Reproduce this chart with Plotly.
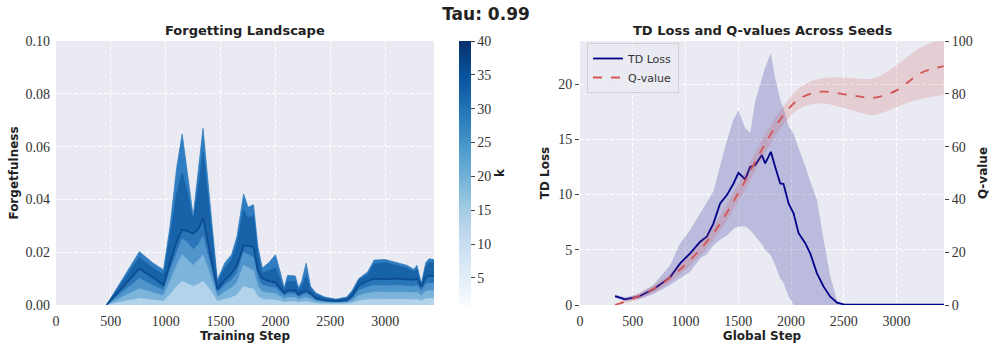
import plotly.graph_objects as go

# ---- forgetting landscape (left panel): one profile per k level
steps = [460, 600, 760, 880, 980, 1040, 1100, 1150, 1200, 1250, 1300, 1340, 1400, 1470, 1540,
         1600, 1650, 1710, 1750, 1800, 1840, 1880, 1940, 2000, 2040, 2080, 2110, 2180, 2210, 2240,
         2280, 2320, 2370, 2450, 2550, 2650, 2700, 2760, 2840, 2900, 3000, 3100, 3200, 3260, 3290,
         3330, 3370, 3400, 3445]
forget_k40 = [0, .0095, .0202, .0160, .0133, .030, .052, .0647, .050, .0335, .052, .0669, .040, .0095, .016,
              .019, .026, .042, .037, .038, .022, .014, .016, .019, .013, .0065, .0112, .0110, .0065, .009,
              .0158, .007, .0045, .003, .0022, .003, .0055, .010, .0125, .0170, .0172, .0162, .0150, .0135, .0150,
              .0080, .0160, .0175, .0172]
forget_k33 = [0, .0085, .0180, .0140, .0115, .026, .042, .050, .042, .032, .045, .058, .035, .008, .014,
              .017, .023, .036, .033, .034, .019, .012, .013, .014, .010, .0055, .0090, .0088, .0055, .007,
              .011, .006, .0038, .0026, .0020, .0026, .0048, .0095, .0115, .0155, .0160, .0150, .0140, .0125, .0135,
              .0075, .0145, .0160, .0160]
forget_k26 = [0, .0065, .0138, .0105, .0076, .016, .024, .0285, .028, .027, .029, .033, .020, .0060, .0095,
              .012, .015, .0225, .0225, .022, .013, .010, .0090, .0085, .0065, .0045, .0055, .0055, .0040, .0048,
              .0055, .0044, .0025, .0018, .0015, .0018, .0035, .0075, .0092, .0100, .0098, .0100, .0097, .0095, .0100,
              .0070, .0105, .0110, .0110]
forget_k19 = [0, .0048, .0100, .0075, .0055, .013, .020, .025, .0235, .021, .023, .026, .016, .0045, .0075,
              .0095, .012, .020, .019, .018, .010, .0075, .0068, .0065, .0050, .0035, .0042, .0042, .0030, .0036,
              .0042, .0034, .0019, .0013, .0011, .0013, .0025, .0055, .0068, .0074, .0072, .0074, .0072, .0070, .0074,
              .0052, .0078, .0082, .0082]
forget_k12 = [0, .0030, .0062, .0047, .0035, .009, .015, .019, .017, .015, .017, .019, .012, .0030, .0050,
              .0065, .0085, .015, .014, .013, .0070, .0050, .0045, .0043, .0033, .0023, .0028, .0028, .0020, .0024,
              .0028, .0022, .0012, .0009, .0007, .0009, .0016, .0036, .0045, .0049, .0048, .0049, .0048, .0046, .0049,
              .0035, .0052, .0054, .0054]
forget_k5 = [0, .0012, .0025, .0019, .0014, .004, .007, .009, .008, .007, .008, .009, .006, .0013, .0022,
             .0028, .0038, .007, .0065, .006, .0032, .0022, .0020, .0019, .0015, .0010, .0012, .0012, .0009, .0011,
             .0012, .0010, .0005, .0004, .0003, .0004, .0007, .0016, .0020, .0022, .0021, .0022, .0021, .0020, .0022,
             .0015, .0023, .0024, .0024]

# ---- TD loss / Q-value (right panel)
td_steps = [332, 427, 553, 696, 854, 949, 1044, 1139, 1202, 1265, 1328, 1392, 1455, 1502, 1566, 1613,
            1661, 1724, 1755, 1809, 1850, 1898, 1929, 1977, 2024, 2072, 2135, 2182, 2246, 2309, 2372,
            2436, 2499, 2700, 3000, 3200, 3450]
td_mean = [0.81, 0.51, 0.75, 1.42, 2.5, 3.77, 4.68, 5.73, 6.18, 7.39, 9.2, 9.95, 11.0, 11.97, 11.37, 12.5,
           12.67, 13.57, 12.82, 13.87, 12.5, 11.0, 10.95, 9.2, 8.3, 6.5, 5.6, 4.68, 2.87, 1.66, 0.75,
           0.21, 0.06, 0.05, 0.06, 0.05, 0.04]
td_upper = [0.95, 0.7, 1.0, 1.8, 3.6, 5.6, 6.8, 8.3, 9.3, 10.3, 12.6, 14.9, 16.8, 17.6, 16.0, 15.6,
            18.5, 20.5, 21.5, 22.8, 20.5, 18.6, 17.8, 16.2, 15.5, 14.2, 12.6, 11.2, 9.5, 5.9, 2.6,
            0.4, 0.12, 0.08, 0.1, 0.08, 0.06]
td_lower = [0.65, 0.35, 0.5, 1.0, 1.8, 2.4, 3.0, 4.2, 4.6, 5.4, 5.9, 6.3, 6.9, 7.1, 7.1, 6.8,
            6.2, 5.5, 5.0, 4.5, 3.6, 2.4, 2.0, 0.8, 0, 0, 0, 0, 0, 0, 0,
            0, 0, 0, 0, 0, 0]

q_steps = [332, 506, 759, 1012, 1265, 1518, 1740, 1930, 2088, 2278, 2562, 2784, 3005, 3227, 3448]
q_mean = [0.0, 2.5, 7.6, 15.8, 27.2, 43.6, 60.0, 72.0, 78.3, 80.8, 79.5, 78.5, 81.4, 87.8, 90.5]
q_upper = [0.5, 3.5, 9.0, 17.8, 30.0, 47.0, 63.5, 75.5, 82.5, 85.8, 86.0, 85.8, 90.9, 97.5, 101.0]
q_lower = [0.0, 1.5, 6.2, 13.8, 24.5, 40.3, 56.5, 68.5, 74.5, 76.4, 74.0, 72.0, 75.1, 78.0, 79.5]

BG = "#EAEAF2"
SERIF = "Liberation Serif"
SANS = "DejaVu Sans"

fig = go.Figure()

layers = [
    (forget_k40, "#2f7dc0", 0.95),
    (forget_k33, "#1762a9", 0.95),
    (forget_k26, "#2a74b8", 0.95),
    (forget_k19, "#4f95cb", 0.9),
    (forget_k12, "#7db4dc", 0.85),
    (forget_k5, "#b2d3ea", 0.85),
]
for vals, col, op in layers:
    fig.add_trace(go.Scatter(x=steps, y=vals, mode="lines", fill="tozeroy", fillcolor=col,
                             line=dict(color=col, width=0.8), opacity=op, showlegend=False,
                             hoverinfo="skip", xaxis="x", yaxis="y"))
# darker line along the middle band
fig.add_trace(go.Scatter(x=steps, y=forget_k26, mode="lines", line=dict(color="#0c4c92", width=1.8),
                         showlegend=False, hoverinfo="skip", xaxis="x", yaxis="y"))

# colorbar for k
fig.add_trace(go.Scatter(x=[None], y=[None], mode="markers", showlegend=False, xaxis="x", yaxis="y",
                         marker=dict(color=[1, 40], colorscale="Blues", cmin=1, cmax=40, showscale=True,
                                     colorbar=dict(x=459 / 996, xanchor="left", y=1 - 305 / 349, yanchor="bottom",
                                                   len=264 / 349, lenmode="fraction", thickness=12,
                                                   outlinewidth=0, xpad=0, ypad=0,
                                                   ticks="outside", ticklen=4, tickcolor="#444",
                                                   tickvals=[5, 10, 15, 20, 25, 30, 35, 40],
                                                   tickfont=dict(family=SERIF, size=14, color="#333"),
                                                   title=dict(text="<b>k</b>", side="right",
                                                              font=dict(family=SANS, size=12, color="#222"))))))

# TD loss band + line
fig.add_trace(go.Scatter(x=td_steps, y=td_upper, mode="lines", line=dict(width=0), showlegend=False,
                         hoverinfo="skip", xaxis="x2", yaxis="y2"))
fig.add_trace(go.Scatter(x=td_steps, y=td_lower, mode="lines", line=dict(width=0), fill="tonexty",
                         fillcolor="rgba(0,0,139,0.2)", showlegend=False, hoverinfo="skip",
                         xaxis="x2", yaxis="y2"))
fig.add_trace(go.Scatter(x=td_steps, y=td_mean, mode="lines", name="TD Loss", legendrank=1,
                         line=dict(color="#00008b", width=1.8), xaxis="x2", yaxis="y2"))

# Q-value band + line (secondary axis)
fig.add_trace(go.Scatter(x=q_steps, y=q_upper, mode="lines", line=dict(width=0, shape="spline"),
                         showlegend=False, hoverinfo="skip", xaxis="x2", yaxis="y3"))
fig.add_trace(go.Scatter(x=q_steps, y=q_lower, mode="lines", line=dict(width=0, shape="spline"),
                         fill="tonexty", fillcolor="rgba(205,92,92,0.2)", showlegend=False,
                         hoverinfo="skip", xaxis="x2", yaxis="y3"))
fig.add_trace(go.Scatter(x=q_steps, y=q_mean, mode="lines", name="Q-value", legendrank=2,
                         line=dict(color="#d45555", width=1.8, dash="dash", shape="spline"),
                         xaxis="x2", yaxis="y3"))

ydom = [1 - 305 / 349, 1 - 41 / 349]
grid = dict(showgrid=True, gridcolor="white", griddash="4px,2px", gridwidth=0.8, zeroline=False,
            showline=False, tickfont=dict(family=SERIF, size=14, color="#333"))
xtitle_font = dict(family=SANS, size=12, color="#222")

fig.update_layout(
    width=996, height=349,
    margin=dict(l=0, r=0, t=0, b=0),
    paper_bgcolor="white", plot_bgcolor=BG,
    showlegend=True,
    legend=dict(x=587 / 996, y=1 - 43 / 349, xanchor="left", yanchor="top", traceorder="normal",
                bgcolor="rgba(234,234,242,0.8)", bordercolor="#cfcfd6", borderwidth=1,
                font=dict(family=SANS, size=11, color="#333"), tracegroupgap=0),
    title=dict(text="<b>Tau: 0.99</b>", x=486 / 996, xanchor="center", y=1 - 14 / 349, yanchor="middle",
               font=dict(family=SANS, size=17, color="#222")),
    xaxis=dict(domain=[56 / 996, 434 / 996], range=[0, 3445], dtick=500, automargin=False,
               ticklabelstandoff=6,
               title=dict(text="<b>Training Step</b>", font=xtitle_font, standoff=2), **grid),
    yaxis=dict(domain=ydom, range=[0, 0.1], dtick=0.02, tickformat=".2f", automargin=False,
               ticklabelstandoff=5,
               title=dict(text="<b>Forgetfulness</b>", font=xtitle_font, standoff=4), **grid),
    xaxis2=dict(domain=[580 / 996, 944 / 996], range=[0, 3450], dtick=500, anchor="y2", automargin=False,
                ticklabelstandoff=6,
                title=dict(text="<b>Global Step</b>", font=xtitle_font, standoff=2), **grid),
    yaxis2=dict(domain=ydom, range=[0, 23.9], dtick=5, anchor="x2", automargin=False,
                ticks="outside", ticklen=4, tickcolor="#444",
                title=dict(text="<b>TD Loss</b>", font=xtitle_font, standoff=6), **grid),
    yaxis3=dict(range=[0, 100], dtick=20, overlaying="y2", anchor="x2", side="right", automargin=False,
                showgrid=False, zeroline=False, ticks="outside", ticklen=4, tickcolor="#444",
                tickfont=dict(family=SERIF, size=14, color="#333"),
                title=dict(text="<b>Q-value</b>", font=xtitle_font, standoff=6)),
    annotations=[
        dict(text="<b>Forgetting Landscape</b>", x=245 / 996, y=1 - 30 / 349, xref="paper", yref="paper",
             xanchor="center", showarrow=False, font=dict(family=SANS, size=13, color="#222"), yanchor="middle"),
        dict(text="<b>TD Loss and Q-values Across Seeds</b>", x=762 / 996, y=1 - 30 / 349, xref="paper",
             yref="paper", xanchor="center", showarrow=False, font=dict(family=SANS, size=13, color="#222"),
             yanchor="middle"),
    ],
)

fig.write_html("out.html", config={"displayModeBar": False},
               post_script="document.body.style.margin='0px';")
